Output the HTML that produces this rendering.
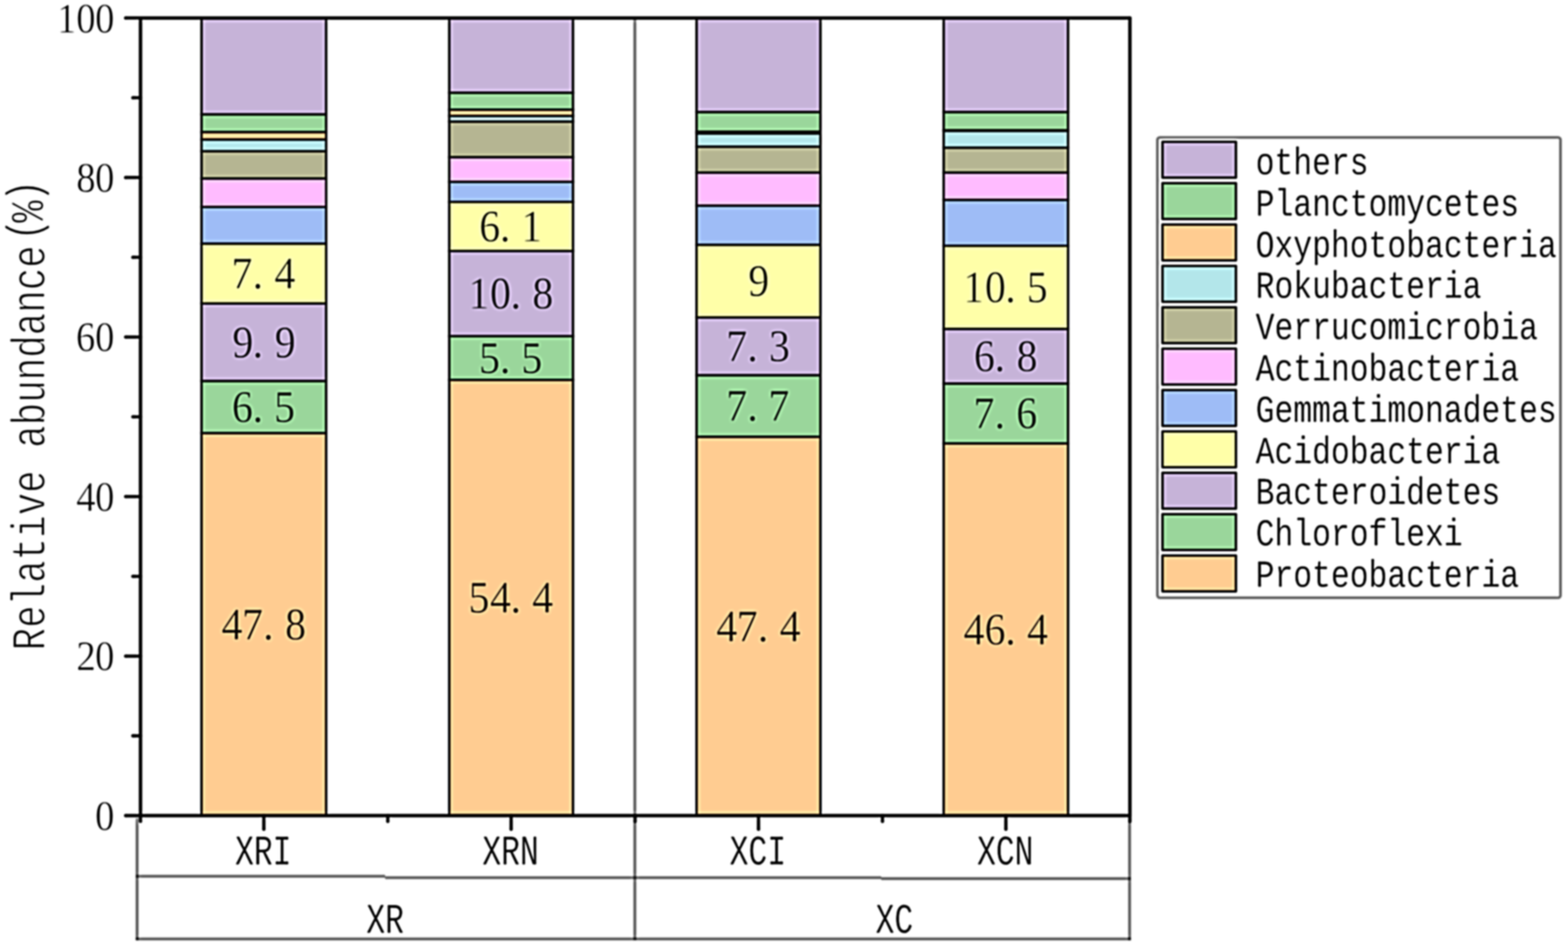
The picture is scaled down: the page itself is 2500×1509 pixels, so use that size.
<!DOCTYPE html>
<html lang="en">
<head>
<meta charset="utf-8">
<title>Relative abundance(%)</title>
<style>
html,body{margin:0;padding:0;background:#fff;}
body{width:2500px;height:1509px;overflow:hidden;}
svg{display:block;}
text{font-family:"Liberation Serif", "Noto Serif CJK SC", serif;}
text.m{font-family:'Liberation Mono','DejaVu Sans Mono',monospace;}
</style>
</head>
<body>
<svg width="2500" height="1509" viewBox="0 0 2500 1509">
<defs>
<filter id="soft" filterUnits="userSpaceOnUse" x="-40" y="-40" width="2580" height="1589" color-interpolation-filters="sRGB">
<feGaussianBlur in="SourceGraphic" stdDeviation="0.8" result="b1"/>
<feGaussianBlur in="b1" stdDeviation="2.6" result="b2"/>
<feComposite in="b1" in2="b2" operator="arithmetic" k1="0" k2="2.2" k3="-1.2" k4="0" result="sh"/>
<feGaussianBlur in="sh" stdDeviation="0.8"/>
</filter>
</defs>
<g filter="url(#soft)">
<rect x="-40" y="-40" width="2580" height="1589" fill="#fff"/>
<g id="table">
<line x1="1012.2" y1="30" x2="1012.2" y2="1499.8" stroke="#000" stroke-opacity="0.5" stroke-width="5" stroke-linecap="butt"/>
<line x1="218.6" y1="1305" x2="218.6" y2="1499.8" stroke="#000" stroke-opacity="0.5" stroke-width="5" stroke-linecap="butt"/>
<line x1="1801" y1="1305" x2="1801" y2="1499.8" stroke="#000" stroke-opacity="0.5" stroke-width="5" stroke-linecap="butt"/>
<line x1="216.6" y1="1397.8" x2="614" y2="1397.8" stroke="#000" stroke-opacity="0.5" stroke-width="5" stroke-linecap="butt"/>
<line x1="614" y1="1400" x2="1405" y2="1400" stroke="#000" stroke-opacity="0.5" stroke-width="5" stroke-linecap="butt"/>
<line x1="1405" y1="1401.6" x2="1803" y2="1401.6" stroke="#000" stroke-opacity="0.5" stroke-width="5" stroke-linecap="butt"/>
<line x1="216.6" y1="1497.8" x2="1803" y2="1497.8" stroke="#000" stroke-opacity="0.5" stroke-width="5" stroke-linecap="butt"/>
</g>
<g id="bars" stroke="#000" stroke-width="3.7" stroke-linejoin="miter">
<rect x="321.25" y="690.8" width="198.8" height="610.2" fill="#FFCC91"/>
<rect x="321.25" y="607.7" width="198.8" height="83.1" fill="#9AD69B"/>
<rect x="321.25" y="484" width="198.8" height="123.7" fill="#C6B3D8"/>
<rect x="321.25" y="388.6" width="198.8" height="95.4" fill="#FFFFA8"/>
<rect x="321.25" y="330.1" width="198.8" height="58.5" fill="#9EBCF6"/>
<rect x="321.25" y="284.7" width="198.8" height="45.4" fill="#FFBBFF"/>
<rect x="321.25" y="241.2" width="198.8" height="43.5" fill="#B5B592"/>
<rect x="321.25" y="222.5" width="198.8" height="18.7" fill="#B3E6EA"/>
<rect x="321.25" y="210.6" width="198.8" height="11.9" fill="#FFCC91"/>
<rect x="321.25" y="182.4" width="198.8" height="28.2" fill="#9AD69B"/>
<rect x="321.25" y="28.7" width="198.8" height="153.7" fill="#C6B3D8"/>
<rect x="716.25" y="606" width="197.4" height="695" fill="#FFCC91"/>
<rect x="716.25" y="536.2" width="197.4" height="69.8" fill="#9AD69B"/>
<rect x="716.25" y="400.3" width="197.4" height="135.9" fill="#C6B3D8"/>
<rect x="716.25" y="322.1" width="197.4" height="78.2" fill="#FFFFA8"/>
<rect x="716.25" y="290" width="197.4" height="32.1" fill="#9EBCF6"/>
<rect x="716.25" y="250.7" width="197.4" height="39.3" fill="#FFBBFF"/>
<rect x="716.25" y="193.9" width="197.4" height="56.8" fill="#B5B592"/>
<rect x="716.25" y="184.9" width="197.4" height="9" fill="#B3E6EA"/>
<rect x="716.25" y="174.9" width="197.4" height="10" fill="#FFCC91"/>
<rect x="716.25" y="147.9" width="197.4" height="27" fill="#9AD69B"/>
<rect x="716.25" y="28.7" width="197.4" height="119.2" fill="#C6B3D8"/>
<rect x="1110.55" y="696.7" width="197.6" height="604.3" fill="#FFCC91"/>
<rect x="1110.55" y="598.5" width="197.6" height="98.2" fill="#9AD69B"/>
<rect x="1110.55" y="506.3" width="197.6" height="92.2" fill="#C6B3D8"/>
<rect x="1110.55" y="390.5" width="197.6" height="115.8" fill="#FFFFA8"/>
<rect x="1110.55" y="328" width="197.6" height="62.5" fill="#9EBCF6"/>
<rect x="1110.55" y="275.3" width="197.6" height="52.7" fill="#FFBBFF"/>
<rect x="1110.55" y="233.9" width="197.6" height="41.4" fill="#B5B592"/>
<rect x="1110.55" y="213" width="197.6" height="20.9" fill="#B3E6EA"/>
<rect x="1110.55" y="210" width="197.6" height="3" fill="#FFCC91"/>
<rect x="1110.55" y="178.7" width="197.6" height="31.3" fill="#9AD69B"/>
<rect x="1110.55" y="28.7" width="197.6" height="150" fill="#C6B3D8"/>
<rect x="1504.55" y="707.3" width="198.4" height="593.7" fill="#FFCC91"/>
<rect x="1504.55" y="611.8" width="198.4" height="95.5" fill="#9AD69B"/>
<rect x="1504.55" y="524.6" width="198.4" height="87.2" fill="#C6B3D8"/>
<rect x="1504.55" y="392.1" width="198.4" height="132.5" fill="#FFFFA8"/>
<rect x="1504.55" y="318.8" width="198.4" height="73.3" fill="#9EBCF6"/>
<rect x="1504.55" y="275.3" width="198.4" height="43.5" fill="#FFBBFF"/>
<rect x="1504.55" y="235.5" width="198.4" height="39.8" fill="#B5B592"/>
<rect x="1504.55" y="208.7" width="198.4" height="26.8" fill="#B3E6EA"/>
<rect x="1504.55" y="207.7" width="198.4" height="1" fill="#FFCC91"/>
<rect x="1504.55" y="178.7" width="198.4" height="29" fill="#9AD69B"/>
<rect x="1504.55" y="28.7" width="198.4" height="150" fill="#C6B3D8"/>
</g>
<g id="axes">
<rect x="224" y="28.7" width="1577.5" height="1272.3" fill="none" stroke="#000" stroke-width="5.5" stroke-linejoin="round"/>
<line x1="200.5" y1="1301" x2="224" y2="1301" stroke="#000" stroke-width="5.3" stroke-linecap="round"/>
<line x1="212" y1="1173.77" x2="224" y2="1173.77" stroke="#000" stroke-width="5.3" stroke-linecap="round"/>
<line x1="200.5" y1="1046.54" x2="224" y2="1046.54" stroke="#000" stroke-width="5.3" stroke-linecap="round"/>
<line x1="212" y1="919.31" x2="224" y2="919.31" stroke="#000" stroke-width="5.3" stroke-linecap="round"/>
<line x1="200.5" y1="792.08" x2="224" y2="792.08" stroke="#000" stroke-width="5.3" stroke-linecap="round"/>
<line x1="212" y1="664.85" x2="224" y2="664.85" stroke="#000" stroke-width="5.3" stroke-linecap="round"/>
<line x1="200.5" y1="537.62" x2="224" y2="537.62" stroke="#000" stroke-width="5.3" stroke-linecap="round"/>
<line x1="212" y1="410.39" x2="224" y2="410.39" stroke="#000" stroke-width="5.3" stroke-linecap="round"/>
<line x1="200.5" y1="283.16" x2="224" y2="283.16" stroke="#000" stroke-width="5.3" stroke-linecap="round"/>
<line x1="212" y1="155.93" x2="224" y2="155.93" stroke="#000" stroke-width="5.3" stroke-linecap="round"/>
<line x1="200.5" y1="28.7" x2="224" y2="28.7" stroke="#000" stroke-width="5.3" stroke-linecap="round"/>
<line x1="420.65" y1="1301" x2="420.65" y2="1322.5" stroke="#000" stroke-width="5.3" stroke-linecap="round"/>
<line x1="814.95" y1="1301" x2="814.95" y2="1322.5" stroke="#000" stroke-width="5.3" stroke-linecap="round"/>
<line x1="1209.35" y1="1301" x2="1209.35" y2="1322.5" stroke="#000" stroke-width="5.3" stroke-linecap="round"/>
<line x1="1603.75" y1="1301" x2="1603.75" y2="1322.5" stroke="#000" stroke-width="5.3" stroke-linecap="round"/>
<line x1="224" y1="1301" x2="224" y2="1310" stroke="#000" stroke-width="5.3" stroke-linecap="round"/>
<line x1="618.3" y1="1301" x2="618.3" y2="1310" stroke="#000" stroke-width="5.3" stroke-linecap="round"/>
<line x1="1012.6" y1="1301" x2="1012.6" y2="1310" stroke="#000" stroke-width="5.3" stroke-linecap="round"/>
<line x1="1407" y1="1301" x2="1407" y2="1310" stroke="#000" stroke-width="5.3" stroke-linecap="round"/>
<line x1="1801.5" y1="1301" x2="1801.5" y2="1310" stroke="#000" stroke-width="5.3" stroke-linecap="round"/>
</g>
<g id="labels" font-family='"Liberation Serif", "Noto Serif CJK SC", serif' fill="#000" text-rendering="geometricPrecision" style="font-variant-ligatures:none;font-kerning:none">
<text transform="translate(167 1323.8) scale(0.92 1)" x="-16.85" y="0" font-size="67.4" stroke="#fff" stroke-width="1" xml:space="preserve">0</text>
<text transform="translate(137 1069.34) scale(0.92 1)" x="-16.47 15.76" y="0" font-size="67.4" stroke="#fff" stroke-width="1" xml:space="preserve">20</text>
<text transform="translate(137 814.88) scale(0.92 1)" x="-16.98 15.76" y="0" font-size="67.4" stroke="#fff" stroke-width="1" xml:space="preserve">40</text>
<text transform="translate(137 560.42) scale(0.92 1)" x="-17.29 15.76" y="0" font-size="67.4" stroke="#fff" stroke-width="1" xml:space="preserve">60</text>
<text transform="translate(137 305.96) scale(0.92 1)" x="-16.85 15.76" y="0" font-size="67.4" stroke="#fff" stroke-width="1" xml:space="preserve">80</text>
<text transform="translate(107 51.5) scale(0.92 1)" x="-17.79 15.76 48.37" y="0" font-size="67.4" stroke="#fff" stroke-width="1" xml:space="preserve">100</text>
<text class="m" transform="translate(389.65 1379.3) scale(1 1.35)" x="-15 15 45" y="0" font-size="50" stroke="#fff" stroke-width="0.4" xml:space="preserve">XRI</text>
<text class="m" transform="translate(783.95 1379.3) scale(1 1.35)" x="-15 15 45" y="0" font-size="50" stroke="#fff" stroke-width="0.4" xml:space="preserve">XRN</text>
<text class="m" transform="translate(1178.35 1379.3) scale(1 1.35)" x="-15 15 45" y="0" font-size="50" stroke="#fff" stroke-width="0.4" xml:space="preserve">XCI</text>
<text class="m" transform="translate(1572.75 1379.3) scale(1 1.35)" x="-15 15 45" y="0" font-size="50" stroke="#fff" stroke-width="0.4" xml:space="preserve">XCN</text>
<text class="m" transform="translate(599 1488) scale(1 1.35)" x="-15 15" y="0" font-size="50" stroke="#fff" stroke-width="0.4" xml:space="preserve">XR</text>
<text class="m" transform="translate(1411 1488) scale(1 1.35)" x="-15 15" y="0" font-size="50" stroke="#fff" stroke-width="0.4" xml:space="preserve">XC</text>
<text transform="translate(370.1 1019.7) scale(0.93 1)" x="-18.14 16.9 53.26 90.71" y="0" font-size="72" stroke="#FFCC91" stroke-width="1" xml:space="preserve">47.8</text>
<text transform="translate(386.95 673.05) scale(0.93 1)" x="-18.47 17.02 53.79" y="0" font-size="72" stroke="#9AD69B" stroke-width="1" xml:space="preserve">6.5</text>
<text transform="translate(386.95 569.65) scale(0.93 1)" x="-17.68 17.02 54.79" y="0" font-size="72" stroke="#C6B3D8" stroke-width="1" xml:space="preserve">9.9</text>
<text transform="translate(386.95 460.1) scale(0.93 1)" x="-19.34 17.02 54.33" y="0" font-size="72" stroke="#FFFFA8" stroke-width="1" xml:space="preserve">7.4</text>
<text transform="translate(764.4 977.3) scale(0.93 1)" x="-18.69 18.1 53.26 90.57" y="0" font-size="72" stroke="#FFCC91" stroke-width="1" xml:space="preserve">54.4</text>
<text transform="translate(781.25 594.9) scale(0.93 1)" x="-18.69 17.02 53.79" y="0" font-size="72" stroke="#9AD69B" stroke-width="1" xml:space="preserve">5.5</text>
<text transform="translate(764.4 492.05) scale(0.93 1)" x="-19 18.24 53.26 90.71" y="0" font-size="72" stroke="#C6B3D8" stroke-width="1" xml:space="preserve">10.8</text>
<text transform="translate(781.25 385) scale(0.93 1)" x="-18.47 17.02 53.47" y="0" font-size="72" stroke="#FFFFA8" stroke-width="1" xml:space="preserve">6.1</text>
<text transform="translate(1158.8 1022.65) scale(0.93 1)" x="-18.14 16.9 53.26 90.57" y="0" font-size="72" stroke="#FFCC91" stroke-width="1" xml:space="preserve">47.4</text>
<text transform="translate(1175.65 671.4) scale(0.93 1)" x="-19.34 17.02 53.14" y="0" font-size="72" stroke="#9AD69B" stroke-width="1" xml:space="preserve">7.7</text>
<text transform="translate(1175.65 576.2) scale(0.93 1)" x="-19.34 17.02 54.16" y="0" font-size="72" stroke="#C6B3D8" stroke-width="1" xml:space="preserve">7.3</text>
<text transform="translate(1209.35 472.2) scale(0.93 1)" x="-17.68" y="0" font-size="72" stroke="#FFFFA8" stroke-width="1" xml:space="preserve">9</text>
<text transform="translate(1553.2 1027.95) scale(0.93 1)" x="-18.14 17.76 53.26 90.57" y="0" font-size="72" stroke="#FFCC91" stroke-width="1" xml:space="preserve">46.4</text>
<text transform="translate(1570.05 683.35) scale(0.93 1)" x="-19.34 17.02 54" y="0" font-size="72" stroke="#9AD69B" stroke-width="1" xml:space="preserve">7.6</text>
<text transform="translate(1570.05 592) scale(0.93 1)" x="-18.47 17.02 54.47" y="0" font-size="72" stroke="#C6B3D8" stroke-width="1" xml:space="preserve">6.8</text>
<text transform="translate(1553.2 482.15) scale(0.93 1)" x="-19 18.24 53.26 90.02" y="0" font-size="72" stroke="#FFFFA8" stroke-width="1" xml:space="preserve">10.5</text>
<text class="m" transform="translate(71.3 1019.5) rotate(-90) scale(1 1.27)" x="-18 17.9 53.8 89.7 125.6 161.5 197.4 233.3 269.2 305.1 341 376.9 412.8 448.7 484.6 520.5 556.4 592.3 635.2 664.1 697" y="0 0 0 0 0 0 0 0 0 0 0 0 0 0 0 0 0 0 -6.5 -1.5 -6.5" font-size="60" stroke="#fff" stroke-width="1.5" xml:space="preserve">Relative abundance(%)</text>
<text class="m" transform="translate(2017 278) scale(1 1.22)" x="-15 15 45 75 105 135" y="0" font-size="50" stroke="#fff" stroke-width="0.3" xml:space="preserve">others</text>
<text class="m" transform="translate(2017 343.8) scale(1 1.22)" x="-15 15 45 75 105 135 165 195 225 255 285 315 345 375" y="0" font-size="50" stroke="#fff" stroke-width="0.3" xml:space="preserve">Planctomycetes</text>
<text class="m" transform="translate(2017 409.6) scale(1 1.22)" x="-15 15 45 75 105 135 165 195 225 255 285 315 345 375 405 435" y="0" font-size="50" stroke="#fff" stroke-width="0.3" xml:space="preserve">Oxyphotobacteria</text>
<text class="m" transform="translate(2017 475.4) scale(1 1.22)" x="-15 15 45 75 105 135 165 195 225 255 285 315" y="0" font-size="50" stroke="#fff" stroke-width="0.3" xml:space="preserve">Rokubacteria</text>
<text class="m" transform="translate(2017 541.2) scale(1 1.22)" x="-15 15 45 75 105 135 165 195 225 255 285 315 345 375 405" y="0" font-size="50" stroke="#fff" stroke-width="0.3" xml:space="preserve">Verrucomicrobia</text>
<text class="m" transform="translate(2017 607) scale(1 1.22)" x="-15 15 45 75 105 135 165 195 225 255 285 315 345 375" y="0" font-size="50" stroke="#fff" stroke-width="0.3" xml:space="preserve">Actinobacteria</text>
<text class="m" transform="translate(2017 672.8) scale(1 1.22)" x="-15 15 45 75 105 135 165 195 225 255 285 315 345 375 405 435" y="0" font-size="50" stroke="#fff" stroke-width="0.3" xml:space="preserve">Gemmatimonadetes</text>
<text class="m" transform="translate(2017 738.6) scale(1 1.22)" x="-15 15 45 75 105 135 165 195 225 255 285 315 345" y="0" font-size="50" stroke="#fff" stroke-width="0.3" xml:space="preserve">Acidobacteria</text>
<text class="m" transform="translate(2017 804.4) scale(1 1.22)" x="-15 15 45 75 105 135 165 195 225 255 285 315 345" y="0" font-size="50" stroke="#fff" stroke-width="0.3" xml:space="preserve">Bacteroidetes</text>
<text class="m" transform="translate(2017 870.2) scale(1 1.22)" x="-15 15 45 75 105 135 165 195 225 255 285" y="0" font-size="50" stroke="#fff" stroke-width="0.3" xml:space="preserve">Chloroflexi</text>
<text class="m" transform="translate(2017 936) scale(1 1.22)" x="-15 15 45 75 105 135 165 195 225 255 285 315 345 375" y="0" font-size="50" stroke="#fff" stroke-width="0.3" xml:space="preserve">Proteobacteria</text>
</g>
<g id="legend">
<rect x="1845.4" y="219.3" width="642.6" height="734.2" rx="4" fill="none" stroke="#808080" stroke-width="4.6"/>
<rect x="1853.4" y="226.1" width="117.2" height="57.2" fill="#C6B3D8" stroke="#000" stroke-width="3.8" stroke-linejoin="round"/>
<rect x="1853.4" y="292.1" width="117.2" height="57.2" fill="#9AD69B" stroke="#000" stroke-width="3.8" stroke-linejoin="round"/>
<rect x="1853.4" y="358.1" width="117.2" height="57.2" fill="#FFCC91" stroke="#000" stroke-width="3.8" stroke-linejoin="round"/>
<rect x="1853.4" y="424.1" width="117.2" height="57.2" fill="#B3E6EA" stroke="#000" stroke-width="3.8" stroke-linejoin="round"/>
<rect x="1853.4" y="490.1" width="117.2" height="57.2" fill="#B5B592" stroke="#000" stroke-width="3.8" stroke-linejoin="round"/>
<rect x="1853.4" y="556.1" width="117.2" height="57.2" fill="#FFBBFF" stroke="#000" stroke-width="3.8" stroke-linejoin="round"/>
<rect x="1853.4" y="622.1" width="117.2" height="57.2" fill="#9EBCF6" stroke="#000" stroke-width="3.8" stroke-linejoin="round"/>
<rect x="1853.4" y="688.1" width="117.2" height="57.2" fill="#FFFFA8" stroke="#000" stroke-width="3.8" stroke-linejoin="round"/>
<rect x="1853.4" y="754.1" width="117.2" height="57.2" fill="#C6B3D8" stroke="#000" stroke-width="3.8" stroke-linejoin="round"/>
<rect x="1853.4" y="820.1" width="117.2" height="57.2" fill="#9AD69B" stroke="#000" stroke-width="3.8" stroke-linejoin="round"/>
<rect x="1853.4" y="886.1" width="117.2" height="57.2" fill="#FFCC91" stroke="#000" stroke-width="3.8" stroke-linejoin="round"/>
</g>
</g>
</svg>
</body>
</html>
